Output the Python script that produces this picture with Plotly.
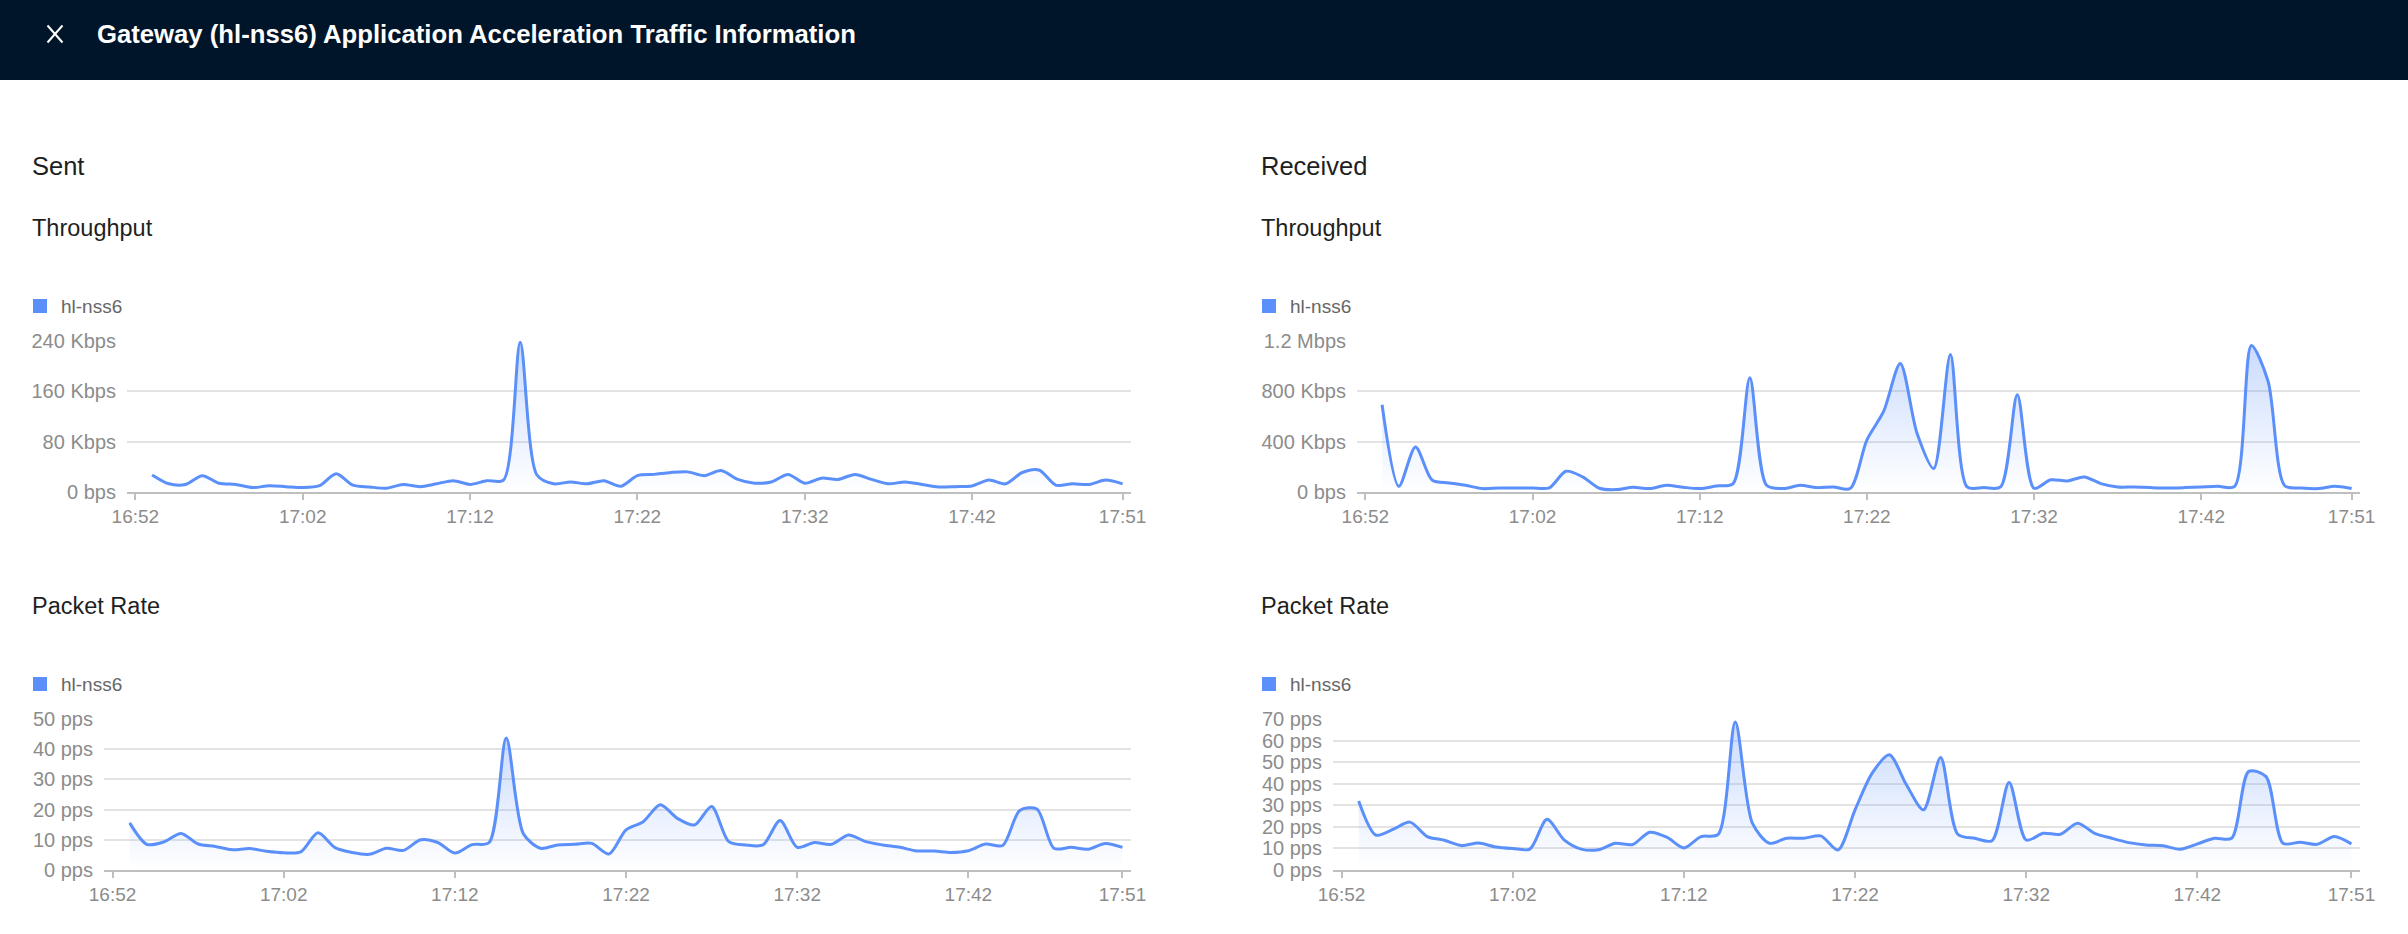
import plotly.graph_objects as go

W, H = 2408, 934

# ---------------- data (one point per minute, 16:53 .. 17:51) ----------------
DAY = "2024-01-01 "
times = [DAY + f"{16 + (52 + i) // 60}:{(52 + i) % 60:02d}:00" for i in range(1, 60)]

tick_labels = ["16:52", "17:02", "17:12", "17:22", "17:32", "17:42", "17:51"]

sent_throughput_kbps = [27, 13, 12, 26, 14, 12, 7, 10, 8.5, 7,
                        10, 29, 11, 8, 6, 12, 8.5, 13, 18, 12,
                        18, 19, 238, 27, 13, 16, 13, 18, 9, 26,
                        28, 31, 32, 26, 34, 20, 14, 16, 28, 14,
                        22, 20, 28, 20, 13, 16, 12, 8, 8.5, 9.6,
                        19, 13, 31, 35, 11, 13, 12, 19, 13]

recv_throughput_kbps = [693, 45, 358, 93, 72, 53, 27, 32, 32, 32,
                        33, 165, 120, 30, 19, 38, 27, 53, 38, 27,
                        48, 67, 907, 53, 27, 53, 35, 40, 27, 413,
                        640, 1021, 467, 187, 1093, 40, 35, 40, 773, 30,
                        97, 88, 120, 67, 40, 40, 35, 32, 35, 40,
                        45, 45, 1165, 880, 50, 32, 27, 45, 27]

sent_packets_pps = [15.6, 8.5, 9.3, 12.1, 8.6, 7.8, 6.7, 7.1, 6.2, 5.7,
                    6.0, 12.3, 7.4, 5.8, 5.2, 7.2, 6.5, 10, 9.1, 5.6,
                    8.4, 9.1, 43.7, 12, 7.2, 8.3, 8.5, 8.8, 5.3, 13.3,
                    16, 21.6, 17.1, 14.9, 21, 9.4, 8.3, 8.3, 16.4, 7.5,
                    9.1, 8.5, 11.6, 9.4, 8.3, 7.5, 6.3, 6.3, 5.8, 6.4,
                    8.6, 8.1, 19.7, 20.2, 7.2, 7.5, 6.9, 8.8, 7.5]

recv_packets_pps = [32, 16.2, 18.8, 22.2, 15.5, 13.8, 11.3, 12.5, 10.7, 10,
                    9.7, 23.5, 14, 9.7, 9.4, 12.4, 11.8, 17.5, 15.2, 10.2,
                    15.5, 16.5, 68.6, 21.7, 12.4, 14.7, 14.7, 15.8, 9.3, 27.9,
                    44.9, 53.4, 39.5, 27.9, 52.2, 16.6, 14.7, 13.6, 40.6, 13.9,
                    17, 16.6, 21.7, 17, 14.7, 12.7, 11.6, 11.2, 9.6, 12.1,
                    14.7, 14.7, 45.7, 43.4, 12.4, 12.9, 11.9, 15.5, 12.1]

sent_thr_ticks = [0, 80, 160, 240]
sent_thr_labels = ["0 bps", "80 Kbps", "160 Kbps", "240 Kbps"]
recv_thr_ticks = [0, 400, 800, 1200]
recv_thr_labels = ["0 bps", "400 Kbps", "800 Kbps", "1.2 Mbps"]
sent_pkt_ticks = [0, 10, 20, 30, 40, 50]
sent_pkt_labels = ["0 pps", "10 pps", "20 pps", "30 pps", "40 pps", "50 pps"]
recv_pkt_ticks = [0, 10, 20, 30, 40, 50, 60, 70]
recv_pkt_labels = ["0 pps", "10 pps", "20 pps", "30 pps", "40 pps", "50 pps", "60 pps", "70 pps"]

series_name = "hl-nss6"
title_text = "Gateway (hl-nss6) Application Acceleration Traffic Information"

# ---------------- styling / layout ----------------
FONT = "Liberation Sans, Arial, Helvetica, sans-serif"
BLUE = "#5B8FF9"
LABEL = "#8C8C8C"
GRID = "#E3E3E3"
AXIS = "#BFBFBF"


def px(x):
    return x / W


def py(y):
    return 1 - y / H


panels = [
    dict(vals=sent_throughput_kbps, ticks=sent_thr_ticks, labels=sent_thr_labels,
         box=(127, 1131, 341, 492)),
    dict(vals=recv_throughput_kbps, ticks=recv_thr_ticks, labels=recv_thr_labels,
         box=(1357, 2360, 341, 492)),
    dict(vals=sent_packets_pps, ticks=sent_pkt_ticks, labels=sent_pkt_labels,
         box=(104, 1131, 719, 870)),
    dict(vals=recv_packets_pps, ticks=recv_pkt_ticks, labels=recv_pkt_labels,
         box=(1333, 2360, 719, 870)),
]

fig = go.Figure()
layout_axes = {}
tickvals_x = [DAY + t + ":00" for t in tick_labels]

for i, p in enumerate(panels, start=1):
    suffix = "" if i == 1 else str(i)
    x0, x1, ytop, ybot = p["box"]
    fig.add_trace(go.Scatter(
        x=times, y=p["vals"], name=series_name, mode="lines",
        xaxis="x" + suffix, yaxis="y" + suffix,
        line=dict(color=BLUE, width=3, shape="spline", smoothing=0.8),
        fill="tozeroy",
        fillgradient=dict(type="vertical",
                          colorscale=[[0, "rgba(91,143,249,0.0)"],
                                      [1, "rgba(91,143,249,0.32)"]]),
        showlegend=False, hoverinfo="x+y",
    ))
    layout_axes["xaxis" + suffix] = dict(
        domain=[px(x0), px(x1)], anchor="y" + suffix, type="date",
        range=[DAY + "16:51:30", DAY + "17:51:30"],
        tickmode="array", tickvals=tickvals_x, ticktext=tick_labels,
        showgrid=False, zeroline=False, automargin=False,
        showline=True, linecolor=AXIS, linewidth=1.5,
        ticks="outside", ticklen=6, tickwidth=1.5, tickcolor=AXIS,
        ticklabelstandoff=0,
        tickfont=dict(family=FONT, size=19, color=LABEL),
        fixedrange=True,
    )
    layout_axes["yaxis" + suffix] = dict(
        domain=[py(ybot), py(ytop)], anchor="x" + suffix,
        range=[0, p["ticks"][-1]],
        tickmode="array", tickvals=p["ticks"], ticktext=p["labels"],
        showgrid=True, gridcolor=GRID, gridwidth=1.5,
        zeroline=False, showline=False, ticks="", automargin=False,
        ticklabelstandoff=10,
        tickfont=dict(family=FONT, size=20, color=LABEL),
        fixedrange=True,
    )

annotations = []
shapes = []

# header band
shapes.append(dict(type="rect", xref="paper", yref="paper", x0=0, x1=1,
                   y0=py(80), y1=1, fillcolor="#001529", line=dict(width=0), layer="below"))
# close icon
shapes.append(dict(type="line", xref="paper", yref="paper", x0=px(47.5), y0=py(25.5),
                   x1=px(62.5), y1=py(42.5), line=dict(color="white", width=2)))
shapes.append(dict(type="line", xref="paper", yref="paper", x0=px(47.5), y0=py(42.5),
                   x1=px(62.5), y1=py(25.5), line=dict(color="white", width=2)))

annotations.append(dict(text="<b>" + title_text + "</b>", xref="paper", yref="paper",
                        x=px(95), y=py(34), xanchor="left", yanchor="middle",
                        showarrow=False, font=dict(family=FONT, size=25.7, color="white")))


def text(t, x, y, size, color="#1F1F1F"):
    annotations.append(dict(text=t, xref="paper", yref="paper", x=px(x), y=py(y),
                            xanchor="left", yanchor="middle", showarrow=False,
                            font=dict(family=FONT, size=size, color=color)))


for col_x, head in [(30, "Sent"), (1259, "Received")]:
    text(head, col_x, 166, 25.5)
    text("Throughput", col_x, 228, 23.5)
    text("Packet Rate", col_x, 606, 23.5)
    for ly in (306, 684):
        shapes.append(dict(type="rect", xref="paper", yref="paper",
                           x0=px(col_x + 3), x1=px(col_x + 17), y0=py(ly + 7), y1=py(ly - 7),
                           fillcolor=BLUE, line=dict(width=0)))
        text(series_name, col_x + 29, ly, 19, "#666666")

fig.update_layout(
    width=W, height=H,
    margin=dict(l=0, r=0, t=0, b=0, pad=0, autoexpand=False),
    paper_bgcolor="white", plot_bgcolor="white",
    annotations=annotations, shapes=shapes,
    showlegend=False,
    **layout_axes,
)

# page styling: remove the default body margin as soon as the script runs
page_css = ("}); document.documentElement.style.margin='0px';"
            "document.body.style.margin='0px';document.body.style.padding='0px';"
            "document.body.style.overflow='hidden'; (function(){")

fig.write_html("out.html", post_script=page_css)
